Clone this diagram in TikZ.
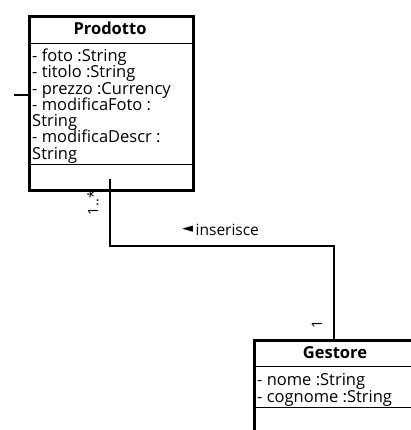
\documentclass[tikz,border=0pt]{standalone}
\usepackage{fontspec}
\setmainfont{Open Sans}
\begin{document}
\begin{tikzpicture}[x=1pt,y=-1pt,
  classbox/.style={draw, line width=2.8pt, anchor=north west, inner sep=0pt},
  sep/.style={line width=0.8pt},
  title/.style={font=\fontsize{16.5}{16.3}\selectfont\bfseries, inner sep=0pt, anchor=base},
  attr/.style={font=\fontsize{16.5}{16.3}\selectfont, anchor=base west, inner sep=0pt},
  assoc/.style={line width=2.8pt},
  mult/.style={font=\fontsize{14.5}{15}\selectfont, rotate=90, inner sep=0pt}]
\useasboundingbox (0,0) rectangle (411,430);
\clip (0,0) rectangle (411,430);

% Prodotto class
\node[classbox, minimum width=164pt, minimum height=174pt] (prod) at (28,15) {};
\draw[sep] (28,43) -- (192,43);
\draw[sep] (28,164) -- (192,164);
\node[title] (prodtitle) at (110,34.3) {Prodotto};
\node[attr] (pa1) at (32,61.5) {- foto :String};
\node[attr] (pa2) at (32,77.8) {- titolo :String};
\node[attr] (pa3) at (32,94.1) {- prezzo :Currency};
\node[attr] (pa4) at (32,110.4) {- modificaFoto :};
\node[attr] (pa5) at (32,126.7) {String};
\node[attr] (pa6) at (32,143.0) {- modificaDescr :};
\node[attr] (pa7) at (32,159.3) {String};

% stub on the left side of Prodotto
\coordinate (stub) at (14,95);
\draw[assoc] (stub) -- (prod.west |- stub);

% Gestore class (runs past the right and bottom edges)
\node[classbox, minimum width=180pt, minimum height=110pt] (gest) at (253,339) {};
\draw[sep] (253,366) -- (440,366);
\draw[sep] (253,407) -- (440,407);
\node[title] (gesttitle) at (335,358.5) {Gestore};
\node[attr] (ga1) at (257,385.7) {- nome :String};
\node[attr] (ga2) at (257,402) {- cognome :String};

% association "inserisce"
\coordinate (a0) at (110,179);
\coordinate (a1) at (110,246);
\coordinate (a2) at (334,246);
\coordinate (a3) at (334,339);
\draw[assoc] (a0) -- (a1) -- (a2) -- (a3);
\node[font=\fontsize{15.5}{16}\selectfont, inner sep=0pt, anchor=base west] (lbl) at (182,235)
  {\raisebox{3pt}{\resizebox{11pt}{6.5pt}{\fontspec{DejaVu Sans}◄}}\hspace{2.5pt}inserisce};
\node[mult] (m1) at (93,203) {1..*};
\node[mult] (m2) at (317,324) {1};
\end{tikzpicture}
\end{document}
